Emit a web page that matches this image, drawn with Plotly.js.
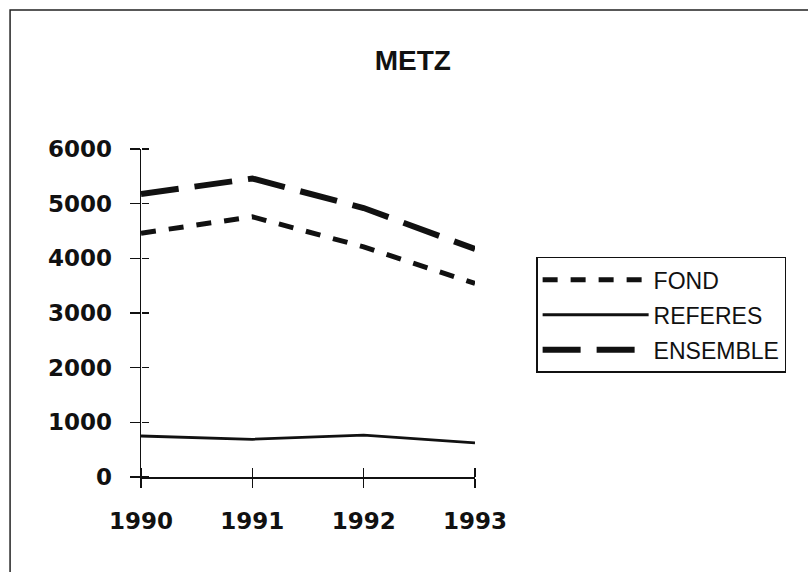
<!DOCTYPE html>
<html>
<head>
<meta charset="utf-8">
<script src="https://cdn.plot.ly/plotly-3.0.1.min.js"></script>
<style>html,body{margin:0;padding:0;background:#fff;}#chart{width:808px;height:572px;}</style>
</head>
<body>
<div id="chart"></div>
<script>
const years = [1990, 1991, 1992, 1993];
const yearLabels = ['1990', '1991', '1992', '1993'];
const fond = [4460, 4760, 4210, 3540];
const referes = [750, 690, 765, 625];
const ensemble = [5175, 5460, 4920, 4170];
const yTicks = [0, 1000, 2000, 3000, 4000, 5000, 6000];
const yTickLabels = ['0', '1000', '2000', '3000', '4000', '5000', '6000'];

const ink = '#111111';
const traces = [
  {x: years, y: fond, name: 'FOND', type: 'scatter', mode: 'lines', legendgroup: 'a',
   line: {color: ink, width: 5, dash: '15px,13px'}},
  {x: years, y: referes, name: 'REFERES', type: 'scatter', mode: 'lines', legendgroup: 'b',
   line: {color: ink, width: 2.8}},
  {x: years, y: ensemble, name: 'ENSEMBLE', type: 'scatter', mode: 'lines', legendgroup: 'c',
   line: {color: ink, width: 6, dash: '38px,16px'}},
  {x: [1990], y: [-100], xaxis: 'x2', yaxis: 'y2', showlegend: false, hoverinfo: 'skip', type: 'scatter',
   mode: 'markers', marker: {opacity: 0}}
];

const tickFont = {family: 'DejaVu Sans', size: 23, color: ink, weight: 'bold'};
const layout = {
  width: 808, height: 572,
  margin: {l: 141, r: 333, t: 149, b: 95, pad: 0},
  paper_bgcolor: '#ffffff', plot_bgcolor: 'rgba(0,0,0,0)',
  showlegend: true,
  title: {text: '<b>METZ</b>', x: 0.511, xanchor: 'center', y: 0.894, yanchor: 'middle',
          font: {family: 'Liberation Sans', size: 28, color: ink}},
  xaxis: {range: [1990, 1993], tickvals: years, ticktext: yearLabels, showgrid: false, zeroline: false,
          showline: true, linecolor: ink, linewidth: 1.5, ticks: 'outside', ticklen: 9, tickwidth: 1.5,
          tickcolor: ink, tickfont: tickFont, ticklabelstandoff: 14},
  yaxis: {range: [0, 6000], tickvals: yTicks, ticktext: yTickLabels, showgrid: false, zeroline: false,
          showline: true, linecolor: ink, linewidth: 1.5, ticks: 'outside', ticklen: 10, tickwidth: 1.5,
          tickcolor: ink, tickfont: tickFont, ticklabelstandoff: 13},
  xaxis2: {overlaying: 'x', anchor: 'free', position: 0, side: 'top', range: [1990, 1993], tickvals: years,
           showticklabels: false, showgrid: false, zeroline: false, showline: false,
           ticks: 'outside', ticklen: 9, tickwidth: 1.5, tickcolor: ink},
  yaxis2: {overlaying: 'y', anchor: 'free', position: 0, side: 'right', range: [0, 6000], tickvals: yTicks,
           showticklabels: false, showgrid: false, zeroline: false, showline: false,
           ticks: 'outside', ticklen: 7, tickwidth: 1.5, tickcolor: ink},
  legend: {x: 1.183, xanchor: 'left', y: 0.671, yanchor: 'top', bordercolor: ink, borderwidth: 1.5,
           bgcolor: '#ffffff', itemwidth: 106, traceorder: 'grouped', tracegroupgap: 2,
           font: {family: 'Liberation Sans', size: 23, color: ink}},
  shapes: [
    {type: 'rect', xref: 'paper', yref: 'paper', x0: -0.392, x1: 2.2, y0: 1.424, y1: -0.6,
     line: {color: '#222', width: 1.5}, layer: 'below'}
  ]
};
Plotly.newPlot('chart', traces, layout, {displayModeBar: false, staticPlot: true});
</script>
</body>
</html>
